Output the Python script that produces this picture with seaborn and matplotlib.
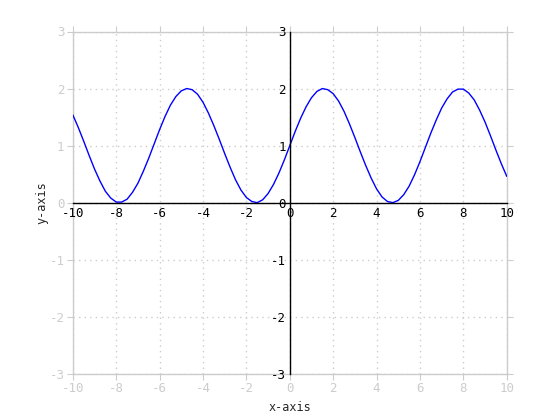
import matplotlib
matplotlib.use("Agg")
import matplotlib.pyplot as plt
import seaborn as sns

# curve samples
x_vals = [-10.0, -9.75, -9.5, -9.25, -9.0, -8.75, -8.5, -8.25, -8.0, -7.75,
          -7.5, -7.25, -7.0, -6.75, -6.5, -6.25, -6.0, -5.75, -5.5, -5.25,
          -5.0, -4.75, -4.5, -4.25, -4.0, -3.75, -3.5, -3.25, -3.0, -2.75,
          -2.5, -2.25, -2.0, -1.75, -1.5, -1.25, -1.0, -0.75, -0.5, -0.25,
          0.0, 0.25, 0.5, 0.75, 1.0, 1.25, 1.5, 1.75, 2.0, 2.25,
          2.5, 2.75, 3.0, 3.25, 3.5, 3.75, 4.0, 4.25, 4.5, 4.75,
          5.0, 5.25, 5.5, 5.75, 6.0, 6.25, 6.5, 6.75, 7.0, 7.25,
          7.5, 7.75, 8.0, 8.25, 8.5, 8.75, 9.0, 9.25, 9.5, 9.75, 10.0]
y_vals = [1.54, 1.32, 1.08, 0.83, 0.59, 0.38, 0.20, 0.08, 0.01, 0.01,
          0.06, 0.18, 0.34, 0.55, 0.78, 1.03, 1.28, 1.51, 1.71, 1.86,
          1.96, 2.00, 1.98, 1.90, 1.76, 1.57, 1.35, 1.11, 0.86, 0.62,
          0.40, 0.22, 0.09, 0.02, 0.00, 0.05, 0.16, 0.32, 0.52, 0.75,
          1.00, 1.25, 1.48, 1.68, 1.84, 1.95, 2.00, 1.98, 1.91, 1.78,
          1.60, 1.38, 1.14, 0.89, 0.65, 0.43, 0.24, 0.10, 0.02, 0.00,
          0.04, 0.14, 0.29, 0.49, 0.72, 0.97, 1.22, 1.45, 1.66, 1.82,
          1.94, 1.99, 1.99, 1.92, 1.80, 1.62, 1.41, 1.17, 0.92, 0.68, 0.46]
x_ticks = [-10, -8, -6, -4, -2, 0, 2, 4, 6, 8, 10]
y_ticks = [-3, -2, -1, 0, 1, 2, 3]

sns.set_style("white")
plt.rcParams["font.family"] = ["DejaVu Sans Mono"]
plt.rcParams["font.size"] = 9
plt.rcParams["axes.unicode_minus"] = False

gray = "#cccccc"
fig = plt.figure(figsize=(5.6, 4.2), dpi=100)
pos = [0.13, 0.11, 0.775, 0.815]

# outer gray box with grid
ax = fig.add_axes(pos)
ax.set_xlim(-10, 10)
ax.set_ylim(-3, 3)
ax.set_xticks(x_ticks)
ax.set_yticks(y_ticks)
for s in ax.spines.values():
    s.set_color(gray)
    s.set_linewidth(1)
ax.tick_params(direction="out", length=4, color=gray, labelcolor=gray,
               top=True, right=True, left=True, bottom=True, pad=2)
ax.grid(True, color=gray, linestyle=(0, (1, 3)), linewidth=1)
ax.set_xlabel("x-axis", fontsize=8.5, labelpad=4)
ax.set_ylabel("y-axis", fontsize=8.5, labelpad=1)

# black axes through the origin
ax2 = fig.add_axes(pos, facecolor="none")
ax2.set_xlim(-10, 10)
ax2.set_ylim(-3, 3)
ax2.set_xticks(x_ticks)
ax2.set_yticks(y_ticks)
ax2.spines["left"].set_position(("data", 0))
ax2.spines["bottom"].set_position(("data", 0))
ax2.spines["top"].set_visible(False)
ax2.spines["right"].set_visible(False)
for s in ("left", "bottom"):
    ax2.spines[s].set_color("black")
    ax2.spines[s].set_linewidth(1)
ax2.tick_params(direction="in", length=4, color="black", labelcolor="black", pad=3)

sns.lineplot(x=x_vals, y=y_vals, color="blue", linewidth=1, ax=ax2)

fig.savefig("out.png", dpi=100)
